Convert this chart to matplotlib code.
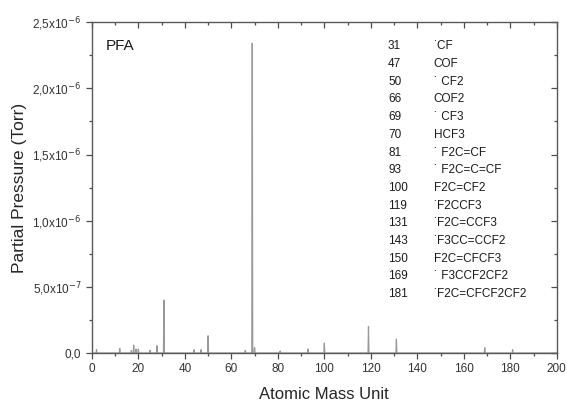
import numpy as np
import matplotlib
matplotlib.use("Agg")
import matplotlib.pyplot as plt
import matplotlib.ticker as mticker

plt.rcParams["font.family"] = ["Liberation Sans", "DejaVu Sans"]

# peaks (amu, Torr)
peak_mass = [2, 12, 17, 18, 19, 20, 25, 28, 31, 44, 47, 50, 66, 69, 70, 81, 93, 100, 119, 131, 169, 181]
peak_pressure = [0.025e-6, 0.035e-6, 0.02e-6, 0.06e-6, 0.03e-6, 0.03e-6, 0.02e-6, 0.055e-6, 0.40e-6,
                 0.025e-6, 0.025e-6, 0.13e-6, 0.02e-6, 2.34e-6, 0.04e-6, 0.015e-6, 0.03e-6, 0.075e-6,
                 0.20e-6, 0.105e-6, 0.04e-6, 0.025e-6]

# fragment table
frag_mass = ["31", "47", "50", "66", "69", "70", "81", "93", "100", "119", "131", "143", "150", "169", "181"]
frag_name = ["˙CF", "COF", "˙ CF2", "COF2", "˙ CF3", "HCF3", "˙ F2C=CF", "˙ F2C=C=CF", "F2C=CF2",
             "˙F2CCF3", "˙F2C=CCF3", "˙F3CC=CCF2", "F2C=CFCF3", "˙ F3CCF2CF2", "˙F2C=CFCF2CF2"]

y_ticks = [0, 0.5e-6, 1.0e-6, 1.5e-6, 2.0e-6, 2.5e-6]
y_tick_labels = ["0,0", r"5,0x10$^{-7}$", r"1,0x10$^{-6}$", r"1,5x10$^{-6}$", r"2,0x10$^{-6}$", r"2,5x10$^{-6}$"]

amu = np.round(np.arange(0, 200.01, 0.2), 1)
pressure = np.zeros_like(amu)
for m, p in zip(peak_mass, peak_pressure):
    pressure[np.argmin(np.abs(amu - m))] = p

fig = plt.figure(figsize=(5.67, 4.03), dpi=100)
ax = fig.add_axes([0.162, 0.124, 0.820, 0.821])

ax.plot(amu, pressure, color="0.6", linewidth=0.9)

ax.set_xlim(0, 200)
ax.set_ylim(0, 2.5e-6)
ax.xaxis.set_major_locator(mticker.MultipleLocator(20))
ax.xaxis.set_minor_locator(mticker.MultipleLocator(10))
ax.set_yticks(y_ticks)
ax.set_yticklabels(y_tick_labels)
ax.yaxis.set_minor_locator(mticker.MultipleLocator(0.25e-6))

ax.tick_params(which="both", top=True, right=True, direction="out", labelsize=8.5, colors="0.3", labelcolor="0.2")
ax.tick_params(which="major", length=4, width=0.9)
ax.tick_params(which="minor", length=2.5, width=0.9)
# top and right ticks point inward
for t in ax.xaxis.get_ticklines(minor=False)[1::2] + ax.xaxis.get_ticklines(minor=True)[1::2]:
    t.set_marker(3)
for t in ax.yaxis.get_ticklines(minor=False)[1::2] + ax.yaxis.get_ticklines(minor=True)[1::2]:
    t.set_marker(0)
for s in ax.spines.values():
    s.set_color("0.35")
    s.set_linewidth(1.0)

ax.set_xlabel("Atomic Mass Unit", fontsize=12, color="0.15", labelpad=8)
ax.set_ylabel("Partial Pressure (Torr)", fontsize=12.5, color="0.15", labelpad=4)

ax.text(0.03, 0.95, "PFA", transform=ax.transAxes, fontsize=11, color="0.1", va="top")

for i, (m, n) in enumerate(zip(frag_mass, frag_name)):
    y = 0.927 - i * 0.0535
    ax.text(0.637, y, m, transform=ax.transAxes, fontsize=8.5, color="0.1", va="center")
    ax.text(0.735, y, n, transform=ax.transAxes, fontsize=8.5, color="0.1", va="center")

fig.savefig("out.png", dpi=100)
